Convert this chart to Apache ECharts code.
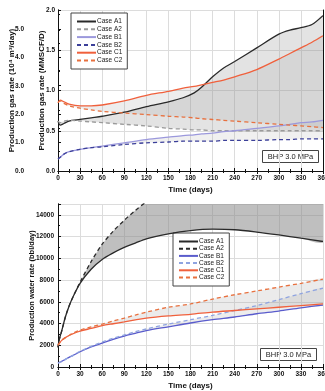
<!DOCTYPE html>
<html>
<head>
<meta charset="utf-8">
<script src="https://cdn.jsdelivr.net/npm/echarts@6/dist/echarts.min.js"></script>
<style>
  html, body { margin: 0; padding: 0; background: #fff; }
  #chart { width: 325px; height: 391px; }
</style>
</head>
<body>
<div id="chart"></div>
<script>
// gas rate panel (MMSCF/D)
const timeGas = [0, 3, 8, 15, 30, 45, 60, 90, 120, 150, 170, 185, 195, 210, 225, 240, 270, 300, 315, 330, 345, 360]
const gasA1 = [0.62, 0.57, 0.59, 0.62, 0.64, 0.66, 0.68, 0.73, 0.80, 0.86, 0.91, 0.97, 1.04, 1.17, 1.28, 1.36, 1.53, 1.70, 1.75, 1.78, 1.82, 1.93]
const gasA2 = [0.62, 0.60, 0.62, 0.63, 0.62, 0.61, 0.60, 0.58, 0.56, 0.53, 0.52, 0.51, 0.51, 0.50, 0.50, 0.50, 0.50, 0.50, 0.50, 0.50, 0.50, 0.50]
const gasB1 = [0.15, 0.17, 0.21, 0.24, 0.27, 0.29, 0.31, 0.35, 0.39, 0.42, 0.44, 0.45, 0.46, 0.47, 0.49, 0.50, 0.53, 0.56, 0.58, 0.60, 0.61, 0.63]
const gasB2 = [0.15, 0.17, 0.21, 0.24, 0.27, 0.29, 0.30, 0.33, 0.35, 0.36, 0.37, 0.37, 0.37, 0.37, 0.38, 0.38, 0.38, 0.39, 0.39, 0.40, 0.40, 0.40]
const gasC1 = [0.85, 0.88, 0.86, 0.83, 0.81, 0.81, 0.82, 0.87, 0.94, 0.99, 1.03, 1.05, 1.07, 1.10, 1.13, 1.17, 1.26, 1.39, 1.46, 1.53, 1.60, 1.68]
const gasC2 = [0.85, 0.87, 0.84, 0.81, 0.78, 0.76, 0.74, 0.72, 0.70, 0.68, 0.67, 0.66, 0.65, 0.64, 0.63, 0.62, 0.60, 0.58, 0.57, 0.56, 0.55, 0.54]

// water rate panel (bbl/day)
const timeWater = [0, 2, 5, 10, 15, 20, 30, 45, 60, 75, 90, 105, 120, 150, 180, 210, 240, 270, 300, 330, 360]
const waterA1 = [1800, 2600, 3300, 4600, 5600, 6400, 7700, 9000, 9900, 10500, 11000, 11400, 11800, 12250, 12550, 12680, 12630, 12420, 12150, 11850, 11550]
const waterA2 = [1800, 2600, 3300, 4600, 5600, 6400, 7800, 9700, 11300, 12500, 13500, 14400, 15200, 16500, 17600, 18600, 19500, 20300, 21000, 21700, 22300]
const waterB1 = [350, 420, 520, 700, 880, 1050, 1400, 1850, 2200, 2550, 2850, 3100, 3350, 3700, 4050, 4350, 4600, 4900, 5150, 5450, 5700]
const waterB2 = [350, 420, 520, 700, 880, 1050, 1450, 1900, 2300, 2650, 2950, 3250, 3500, 3950, 4350, 4750, 5200, 5650, 6200, 6750, 7250]
const waterC1 = [2000, 2200, 2450, 2700, 2900, 3050, 3300, 3550, 3800, 3980, 4150, 4330, 4500, 4700, 4850, 5050, 5200, 5350, 5500, 5650, 5800]
const waterC2 = [2000, 2200, 2450, 2700, 2900, 3100, 3400, 3700, 3950, 4230, 4500, 4780, 5050, 5500, 5800, 6250, 6650, 7000, 7350, 7700, 8080]

const caseNames = ['Case A1', 'Case A2', 'Case B1', 'Case B2', 'Case C1', 'Case C2']

const font = 'Liberation Sans, Arial, sans-serif'
const axisColor = '#111'
const gridColor = '#dcdcdc'

const pairs = (t, v) => t.map((x, i) => [x, v[i]])

function line (name, t, v, color, dashed, xi, yi) {
  return {
    name: name,
    type: 'line',
    xAxisIndex: xi,
    yAxisIndex: yi,
    data: pairs(t, v),
    smooth: 0.3,
    symbol: 'none',
    z: 5,
    lineStyle: { color: color, width: 1.3, type: dashed ? [4, 3] : 'solid' },
    itemStyle: { color: color }
  }
}

// shaded band between two curves, drawn as one polygon through the axes' scales
function band (t, a, b, color, opacity, xi, yi) {
  return {
    type: 'custom',
    xAxisIndex: xi,
    yAxisIndex: yi,
    silent: true,
    clip: true,
    z: 1,
    data: t.map((x, i) => [x, a[i], b[i]]),
    renderItem (params, api) {
      if (params.dataIndexInside !== 0) return null
      const n = params.dataInsideLength
      const upper = []
      const lower = []
      for (let i = 0; i < n; i++) {
        upper.push(api.coord([api.value(0, i), api.value(1, i)]))
        lower.push(api.coord([api.value(0, i), api.value(2, i)]))
      }
      return {
        type: 'polygon',
        shape: { points: upper.concat(lower.reverse()), smooth: 0.25 },
        style: { fill: color, opacity: opacity }
      }
    }
  }
}

function xAxisPair (gi) {
  return [{
    type: 'value', gridIndex: gi, min: 0, max: 360, interval: 30,
    name: 'Time (days)', nameLocation: 'middle', nameGap: 15, nameMoveOverlap: false,
    nameTextStyle: { fontFamily: font, fontWeight: 'bold', fontSize: 8, color: '#111' },
    axisLine: { lineStyle: { color: axisColor, width: 1 } },
    axisTick: { inside: true, length: 3, lineStyle: { color: axisColor } },
    minorTick: { show: true, splitNumber: 2, length: 2, lineStyle: { color: axisColor } },
    axisLabel: { fontFamily: font, fontWeight: 'bold', fontSize: 6.5, color: '#111', margin: 4 },
    splitLine: { show: true, lineStyle: { color: gridColor, width: 1 } }
  }, {
    type: 'value', gridIndex: gi, min: 0, max: 360, interval: 30, position: 'top',
    axisLine: { lineStyle: { color: axisColor, width: 1 } },
    axisTick: { inside: true, length: 3, lineStyle: { color: axisColor } },
    minorTick: { show: true, splitNumber: 2, length: 2, lineStyle: { color: axisColor } },
    axisLabel: { show: false },
    splitLine: { show: false }
  }]
}

function legend (top, left, gap, suffix) {
  return {
    orient: 'vertical',
    top: top,
    left: left,
    padding: [5, 5, 5, 5],
    itemGap: gap,
    itemWidth: 19,
    itemHeight: 8,
    borderColor: '#444',
    borderWidth: 1,
    borderRadius: 0,
    backgroundColor: '#fff',
    itemStyle: { opacity: 0 },
    formatter: name => name.trim(),
    textStyle: { fontFamily: font, fontSize: 6.5, color: '#222', padding: [0, 0, 0, -4] },
    data: caseNames.map(n => n + suffix)
  }
}

const labelBox = (left, top) => ({
  type: 'group',
  left: left,
  top: top,
  children: [
    { type: 'rect', shape: { x: 0, y: 0, width: 56, height: 12 }, style: { fill: '#fff', stroke: '#444', lineWidth: 1 } },
    { type: 'text', x: 28, y: 6, style: { text: 'BHP 3.0 MPa', font: '7.5px ' + font, fill: '#222', align: 'center', verticalAlign: 'middle' } }
  ]
})

const topX = xAxisPair(0)
const botX = xAxisPair(1)

const option = {
  animation: false,
  backgroundColor: '#fff',
  grid: [
    { left: 58, top: 10, width: 265, height: 161, show: false, outerBoundsMode: 'none', containLabel: false },
    { left: 58, top: 204, width: 265, height: 163, show: false, outerBoundsMode: 'none', containLabel: false }
  ],
  xAxis: [topX[0], topX[1], botX[0], botX[1]],
  yAxis: [
    {
      type: 'value', gridIndex: 0, min: 0, max: 2, interval: 0.5,
      name: 'Production gas rate (MMSCF/D)', nameLocation: 'middle', nameGap: 12, nameMoveOverlap: false,
      nameTextStyle: { fontFamily: font, fontWeight: 'bold', fontSize: 8, color: '#111' },
      axisLine: { show: true, lineStyle: { color: axisColor } },
      axisTick: { inside: true, length: 3, lineStyle: { color: axisColor } },
      minorTick: { show: true, splitNumber: 2, length: 2, lineStyle: { color: axisColor } },
      axisLabel: { fontFamily: font, fontWeight: 'bold', fontSize: 6.5, color: '#111', margin: 3, formatter: v => v.toFixed(1) },
      splitLine: { show: true, lineStyle: { color: gridColor } }
    },
    {
      type: 'value', gridIndex: 0, min: 0, max: 5.6634, interval: 1, position: 'left', offset: 26,
      name: 'Production gas rate (10⁴ m³/day)', nameLocation: 'middle', nameGap: 16, nameMoveOverlap: false,
      nameTextStyle: { fontFamily: font, fontWeight: 'bold', fontSize: 8, color: '#111' },
      axisLine: { show: true, lineStyle: { color: axisColor } },
      axisTick: { inside: true, length: 3, lineStyle: { color: axisColor } },
      minorTick: { show: true, splitNumber: 2, length: 2, lineStyle: { color: axisColor } },
      axisLabel: { fontFamily: font, fontWeight: 'bold', fontSize: 6.5, color: '#111', margin: 8, showMaxLabel: false, formatter: v => v.toFixed(1) },
      splitLine: { show: false }
    },
    {
      type: 'value', gridIndex: 0, min: 0, max: 2, interval: 0.5, position: 'right',
      axisLine: { show: true, lineStyle: { color: axisColor } },
      axisTick: { show: false }, axisLabel: { show: false }, splitLine: { show: false }
    },
    {
      type: 'value', gridIndex: 1, min: 0, max: 15000, interval: 2000,
      name: 'Production water rate (bbl/day)', nameLocation: 'middle', nameGap: 22, nameMoveOverlap: false,
      nameTextStyle: { fontFamily: font, fontWeight: 'bold', fontSize: 7.5, color: '#111' },
      axisLine: { show: true, lineStyle: { color: axisColor } },
      axisTick: { inside: true, length: 3, lineStyle: { color: axisColor } },
      minorTick: { show: true, splitNumber: 2, length: 2, lineStyle: { color: axisColor } },
      axisLabel: { fontFamily: font, fontWeight: 'bold', fontSize: 6.5, color: '#111', margin: 4, showMaxLabel: false, formatter: v => String(v) },
      splitLine: { show: true, lineStyle: { color: gridColor } }
    },
    {
      type: 'value', gridIndex: 1, min: 0, max: 15000, interval: 2000, position: 'right',
      axisLine: { show: true, lineStyle: { color: axisColor } },
      axisTick: { show: false }, axisLabel: { show: false }, splitLine: { show: false }
    }
  ],
  legend: [
    legend(13, 71, 0.8, ''),
    legend(233, 173, 0.2, ' ')
  ],
  graphic: [labelBox(262, 150), labelBox(260, 348)],
  series: [
    band(timeGas, gasA1, gasA2, '#9a9a9a', 0.28, 0, 0),
    band(timeGas, gasC1, gasC2, '#9a9a9a', 0.18, 0, 0),
    band(timeGas, gasB1, gasB2, '#9a9a9a', 0.15, 0, 0),
    line('Case A1', timeGas, gasA1, '#2a2a2a', false, 0, 0),
    line('Case A2', timeGas, gasA2, '#9a9a9a', true, 0, 0),
    line('Case B1', timeGas, gasB1, '#9b98dc', false, 0, 0),
    line('Case B2', timeGas, gasB2, '#3b3f99', true, 0, 0),
    line('Case C1', timeGas, gasC1, '#f0603c', false, 0, 0),
    line('Case C2', timeGas, gasC2, '#e8703e', true, 0, 0),

    band(timeWater, waterA1, waterA2, '#8a8a8a', 0.55, 2, 3),
    band(timeWater, waterC1, waterC2, '#9a9a9a', 0.2, 2, 3),
    band(timeWater, waterB1, waterB2, '#9a9a9a', 0.18, 2, 3),
    line('Case A1 ', timeWater, waterA1, '#2a2a2a', false, 2, 3),
    line('Case A2 ', timeWater, waterA2, '#2a2a2a', true, 2, 3),
    line('Case B1 ', timeWater, waterB1, '#5a5ccc', false, 2, 3),
    line('Case B2 ', timeWater, waterB2, '#8fa4e0', true, 2, 3),
    line('Case C1 ', timeWater, waterC1, '#f0603c', false, 2, 3),
    line('Case C2 ', timeWater, waterC2, '#e8703e', true, 2, 3)
  ]
}

const myChart = echarts.init(document.getElementById('chart'))
myChart.setOption(option)
</script>
</body>
</html>
